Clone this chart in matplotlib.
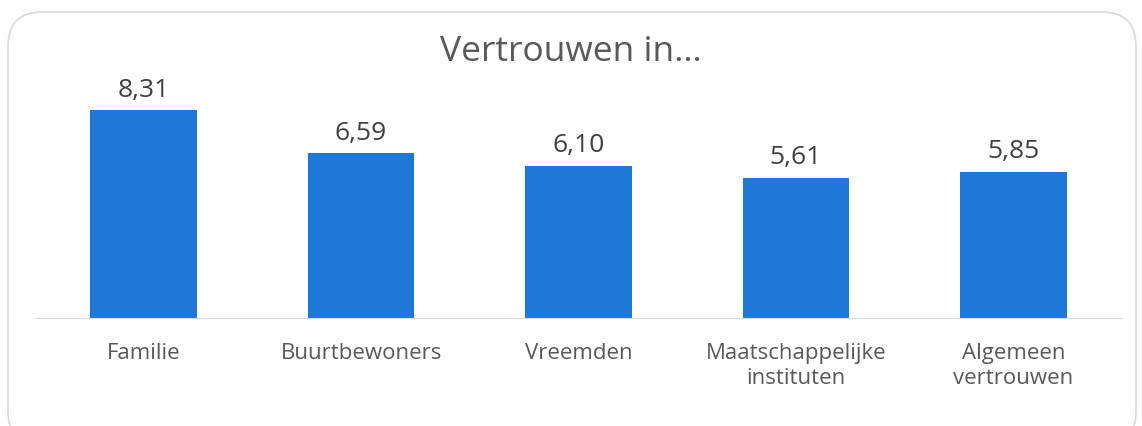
import matplotlib.pyplot as plt
from matplotlib.patches import FancyBboxPatch

categorieen = ["Familie", "Buurtbewoners", "Vreemden", "Maatschappelijke\ninstituten", "Algemeen\nvertrouwen"]
scores = [8.31, 6.59, 6.10, 5.61, 5.85]
labels = ["8,31", "6,59", "6,10", "5,61", "5,85"]

plt.rcParams['font.family'] = ['Open Sans', 'DejaVu Sans']

fig = plt.figure(figsize=(11.42, 4.26), dpi=100)

# afgeronde rand om de grafiek
rand = FancyBboxPatch((8 / 1142, -20 / 426), 1128 / 1142, 434 / 426,
                      boxstyle="round,pad=0,rounding_size=0.03",
                      transform=fig.transFigure, facecolor="white",
                      edgecolor="#D9D9D9", linewidth=1.2, mutation_aspect=1142 / 426,
                      zorder=-5)
fig.patches.append(rand)

ax = fig.add_axes([35 / 1142, 108 / 426, 1087 / 1142, 250 / 426])
ax.set_zorder(2)
x = range(len(categorieen))
bars = ax.bar(x, scores, width=0.49, color="#1F77D8")

for b, t in zip(bars, labels):
    ax.text(b.get_x() + b.get_width() / 2, b.get_height() + 0.3, t,
            ha="center", va="bottom", fontsize=19, color="#404040")

ax.set_xlim(-0.5, 4.5)
ax.set_ylim(0, 10)
ax.set_xticks(list(x))
ax.set_xticklabels(categorieen, fontsize=16, color="#595959", linespacing=1.25)
ax.tick_params(axis="x", length=0, pad=18)
ax.set_yticks([])
for s in ["top", "right", "left"]:
    ax.spines[s].set_visible(False)
ax.spines["bottom"].set_color("#D9D9D9")
ax.patch.set_alpha(0)

fig.text(0.5, 1 - 52 / 426, "Vertrouwen in…", ha="center", va="center",
         fontsize=25.5, color="#595959")

fig.savefig("out.png", dpi=100)
